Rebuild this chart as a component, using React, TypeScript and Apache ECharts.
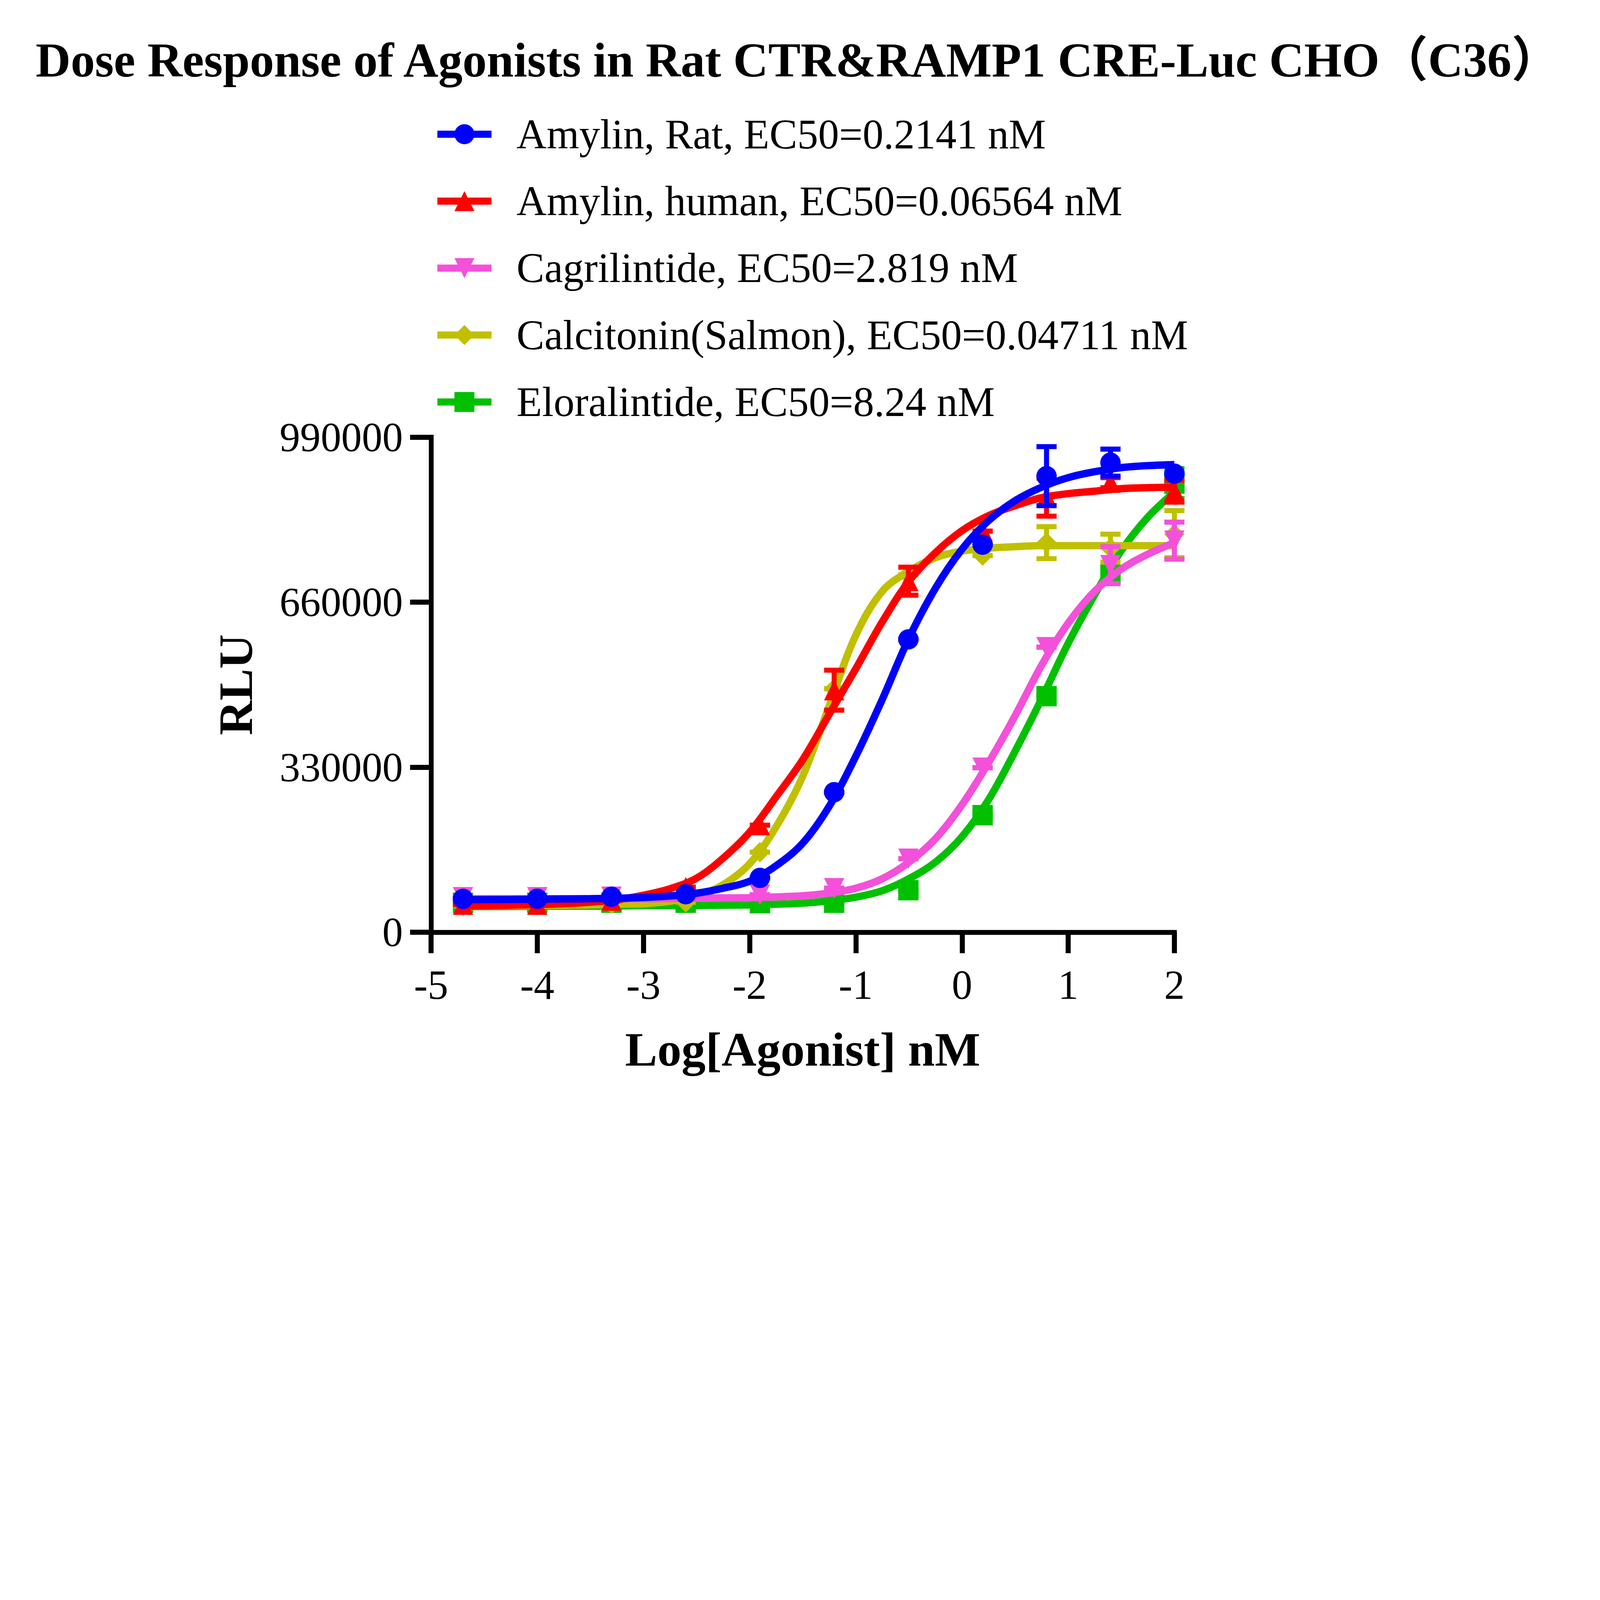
import React, { useEffect, useRef } from 'react';
import * as echarts from 'echarts';

const SERIF = '"Liberation Serif", "Times New Roman", "Noto Sans CJK SC", serif';
const TITLE = 'Dose Response of Agonists in Rat CTR&RAMP1 CRE-Luc CHO（C36）';

// layout was measured on a 7624 x 5325 picture
const BASE_W = 7624;
const BASE_H = 5325;

// log[agonist] nM of the measured points
const logDose = [-4.699, -4, -3.301, -2.602, -1.903, -1.204, -0.505, 0.194, 0.796, 1.398, 2];
// x positions
const curveX = [
  -4.7, -4.25, -3.75, -3.5, -3.25, -3, -2.75, -2.5, -2.25, -2, -1.75, -1.5, -1.25,
  -1, -0.75, -0.5, -0.25, 0, 0.25, 0.5, 0.75, 1, 1.25, 1.5, 1.75, 2,
];

const xTicks = { min: -5, max: 2, step: 1 };
const yTicks = { min: 0, max: 990000, step: 330000 };

// Amylin, Rat
const ratPts = [66700, 67000, 71000, 76000, 108700, 280000, 585600, 775000, 912000, 939000, 917000];
const ratErr = [0, 0, 0, 0, 0, 0, 0, 0, 59000, 27000, 0];
const ratCurve = [
  65000, 65500, 66500, 67000, 68000, 69500, 72500, 78000, 88000, 102000, 133000, 178000, 252000,
  352000, 466000, 588000, 688000, 766000, 823000, 863000, 890000, 909000, 921000, 929000, 933000, 935000,
];

// Amylin, human
const humanPts = [55000, 55000, 63000, 90000, 214000, 484000, 702000, 802000, 870000, 899000, 882000];
const humanErr = [0, 0, 0, 0, 0, 40000, 28000, 0, 38000, 10000, 22000];
const humanCurve = [
  53000, 54000, 57000, 60000, 65000, 74000, 87000, 108000, 148000, 200000, 271000, 345000, 436000,
  527000, 621000, 702000, 759000, 803000, 833000, 853000, 869000, 877000, 882000, 887000, 889000, 890000,
];

// Cagrilintide
const cagriPts = [70000, 70000, 71000, 74000, 75000, 88000, 147000, 329000, 570000, 734000, 783000];
const cagriErr = [0, 0, 0, 0, 0, 0, 0, 0, 0, 37000, 37000];
const cagriCurve = [
  67000, 67000, 67000, 67000, 67000, 67200, 67500, 68000, 68500, 69000, 70500, 73000, 78000,
  88000, 107000, 140000, 187000, 255000, 339000, 433000, 534000, 618000, 682000, 726000, 756000, 779000,
];

// Calcitonin (Salmon)
const salmonPts = [53000, 54000, 57000, 60000, 160000, 487000, 715000, 753000, 779000, 768000, 796000];
const salmonErr = [0, 0, 0, 0, 0, 0, 0, 0, 32000, 28000, 47000];
const salmonCurve = [
  53000, 53000, 54000, 54500, 56000, 57000, 62000, 72000, 95000, 137000, 211000, 312000, 453000,
  594000, 682000, 722000, 749000, 762000, 768000, 771000, 773000, 773000, 773000, 773000, 773000, 773000,
];

// Eloralintide
const eloraPts = [59000, 59000, 59000, 59000, 58000, 59000, 84000, 234000, 472000, 715000, 897000];
const eloraErr = [0, 0, 0, 0, 0, 0, 0, 0, 0, 0, 30000];
const eloraCurve = [
  51000, 51500, 52000, 52000, 52500, 53000, 53000, 53500, 54000, 54500, 56000, 58000, 63000,
  70000, 83000, 107000, 140000, 191000, 265000, 362000, 467000, 578000, 675000, 763000, 830000, 880000,
];

// legend order, top to bottom (first one is drawn on top)
const groups = [
  { name: 'Amylin, Rat, EC50=0.2141 nM', color: '#0000FF', symbol: 'circle', rotate: 0, pts: ratPts, err: ratErr, curve: ratCurve },
  { name: 'Amylin, human, EC50=0.06564 nM', color: '#FF0000', symbol: 'triangle', rotate: 0, pts: humanPts, err: humanErr, curve: humanCurve },
  { name: 'Cagrilintide, EC50=2.819 nM', color: '#F450DA', symbol: 'triangle', rotate: 180, pts: cagriPts, err: cagriErr, curve: cagriCurve },
  { name: 'Calcitonin(Salmon), EC50=0.04711 nM', color: '#C0C000', symbol: 'diamond', rotate: 0, pts: salmonPts, err: salmonErr, curve: salmonCurve },
  { name: 'Eloralintide, EC50=8.24 nM', color: '#00C000', symbol: 'rect', rotate: 0, pts: eloraPts, err: eloraErr, curve: eloraCurve },
];

const errorBar = (color: string, k: number) => (params: any, api: any) => {
  const x = api.value(0);
  const y = api.value(1);
  const e = api.value(2);
  const hi = api.coord([x, y + e]);
  const lo = api.coord([x, y - e]);
  const style = { stroke: color, lineWidth: 24 * k };
  const cap = 48 * k;
  return {
    type: 'group',
    children: [
      { type: 'line', shape: { x1: hi[0], y1: hi[1], x2: lo[0], y2: lo[1] }, style },
      { type: 'line', shape: { x1: hi[0] - cap, y1: hi[1], x2: hi[0] + cap, y2: hi[1] }, style },
      { type: 'line', shape: { x1: lo[0] - cap, y1: lo[1], x2: lo[0] + cap, y2: lo[1] }, style },
    ],
  };
};

const App: React.FC = () => {
  const chartRef = useRef<HTMLDivElement>(null);

  useEffect(() => {
    if (!chartRef.current) return;
    document.body.style.margin = '0';
    // the window may be smaller than the picture, so scale the whole layout
    const k = Math.min(window.innerWidth / BASE_W, window.innerHeight / BASE_H);
    chartRef.current.style.width = BASE_W * k + 'px';
    chartRef.current.style.height = BASE_H * k + 'px';
    const chart = echarts.init(chartRef.current, null, { renderer: 'svg' });

    const series: any[] = [];
    // draw the last group first so that Amylin, Rat ends on top
    groups
      .slice()
      .reverse()
      .forEach((g, r) => {
        const base = 2 + r * 3;
        series.push({
          type: 'custom',
          name: g.name + ' SEM',
          z: base,
          silent: true,
          clip: false,
          encode: { x: 0, y: 1 },
          renderItem: errorBar(g.color, k),
          data: logDose.map((x, i) => [x, g.pts[i], g.err[i]]),
        });
        series.push({
          type: 'line',
          name: g.name,
          z: base + 1,
          smooth: 0.35,
          showSymbol: false,
          symbol: g.symbol,
          symbolRotate: g.rotate,
          lineStyle: { width: 35 * k, color: g.color },
          itemStyle: { color: g.color },
          data: curveX.map((x, i) => [x, g.curve[i]]),
        });
        series.push({
          type: 'scatter',
          name: g.name + ' data',
          z: base + 2,
          symbol: g.symbol,
          symbolSize: 97 * k,
          symbolRotate: g.rotate,
          itemStyle: { color: g.color, opacity: 1 },
          data: logDose.map((x, i) => [x, g.pts[i]]),
        });
      });

    const axisLine = { show: true, onZero: false, lineStyle: { color: '#000', width: 23 * k, cap: 'square' } };
    const axisTick = { show: true, inside: false, length: 100 * k, lineStyle: { color: '#000', width: 24 * k } };

    const option = {
      animation: false,
      backgroundColor: '#fff',
      title: {
        text: TITLE,
        left: 170 * k,
        top: 172 * k,
        padding: 0,
        textStyle: { fontFamily: SERIF, fontWeight: 'bold', fontSize: 231 * k, color: '#000' },
      },
      legend: {
        orient: 'vertical',
        left: 2067 * k,
        top: 540 * k,
        padding: 0,
        itemWidth: 258 * k,
        itemHeight: 119 * k,
        itemGap: 120 * k,
        selectedMode: false,
        data: groups.map((g) => g.name),
        lineStyle: { width: 34 * k },
        textStyle: { fontFamily: SERIF, fontSize: 199 * k, color: '#000', padding: [0, 0, 0, 110 * k] },
      },
      grid: { left: 2054 * k, top: 2083 * k, width: 3542 * k, height: 2359 * k },
      xAxis: {
        type: 'value',
        min: xTicks.min,
        max: xTicks.max,
        interval: xTicks.step,
        name: 'Log[Agonist] nM',
        nameLocation: 'middle',
        nameGap: 443 * k,
        nameTextStyle: { fontFamily: SERIF, fontWeight: 'bold', fontSize: 230 * k, color: '#000' },
        axisLine,
        axisTick,
        splitLine: { show: false },
        axisLabel: {
          margin: 153 * k,
          fontFamily: SERIF,
          fontSize: 196 * k,
          color: '#000',
          formatter: (v: number) => String(v),
        },
      },
      yAxis: {
        type: 'value',
        min: yTicks.min,
        max: yTicks.max,
        interval: yTicks.step,
        name: 'RLU',
        nameLocation: 'middle',
        nameGap: 816 * k,
        nameTextStyle: { fontFamily: SERIF, fontWeight: 'bold', fontSize: 228 * k, color: '#000' },
        axisLine,
        axisTick,
        splitLine: { show: false },
        axisLabel: {
          margin: 134 * k,
          fontFamily: SERIF,
          fontSize: 196 * k,
          color: '#000',
          formatter: (v: number) => String(v),
        },
      },
      series,
    };

    chart.setOption(option);

    const resizeChart = () => chart.resize();
    window.addEventListener('resize', resizeChart);
    return () => {
      window.removeEventListener('resize', resizeChart);
      chart.dispose();
    };
  }, []);

  return (
    <div
      ref={chartRef}
      style={{ position: 'absolute', left: 0, top: 0, width: BASE_W, height: BASE_H, background: '#fff' }}
    />
  );
};

export default App;
